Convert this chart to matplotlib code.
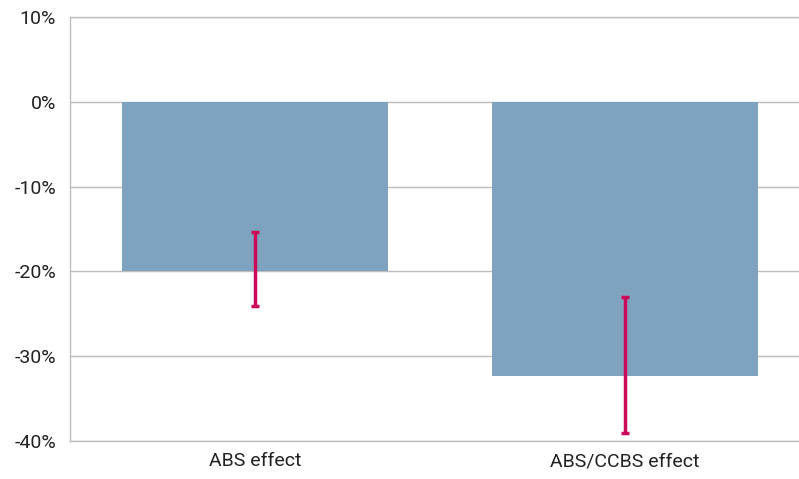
import matplotlib
matplotlib.use("Agg")
import matplotlib.pyplot as plt
from matplotlib.ticker import FuncFormatter

categories = ["ABS effect", "ABS/CCBS effect"]
values = [-20.0, -32.3]
err_low = [-24.1, -39.1]
err_high = [-15.3, -23.0]
yticks = [10, 0, -10, -20, -30, -40]

plt.rcParams['font.family'] = ['Roboto', 'DejaVu Sans']

fig = plt.figure(figsize=(7.99, 4.79), dpi=100)
ax = fig.add_axes([70/799, 1-441/479, 729/799, (441-17)/479])

x = list(range(len(categories)))
ax.bar(x, values, width=0.72, color="#7FA3BF", zorder=2)
for xi, lo, hi in zip(x, err_low, err_high):
    ax.errorbar([xi], [(lo+hi)/2], yerr=[[(hi-lo)/2], [(hi-lo)/2]], fmt='none',
                ecolor="#CC0A5A", elinewidth=2.5, capsize=3, capthick=2.5, zorder=3)

ax.set_xlim(-0.5, 1.47)
ax.set_ylim(-40, 10)
ax.set_yticks(yticks)
ax.yaxis.set_major_formatter(FuncFormatter(lambda v, p: f"{int(v)}%"))
ax.set_xticks(x)
ax.set_xticklabels(categories)
ax.grid(axis='y', color="#BDBDBD", linewidth=1, zorder=0)
ax.spines["right"].set_visible(False)
for s in ["left", "top", "bottom"]:
    ax.spines[s].set_color("#BDBDBD")
    ax.spines[s].set_linewidth(1)
ax.tick_params(axis='both', length=0, labelsize=14, colors="#222222")
ax.tick_params(axis='y', pad=10)
ax.tick_params(axis='x', pad=8)

fig.savefig("out.png", dpi=100)
